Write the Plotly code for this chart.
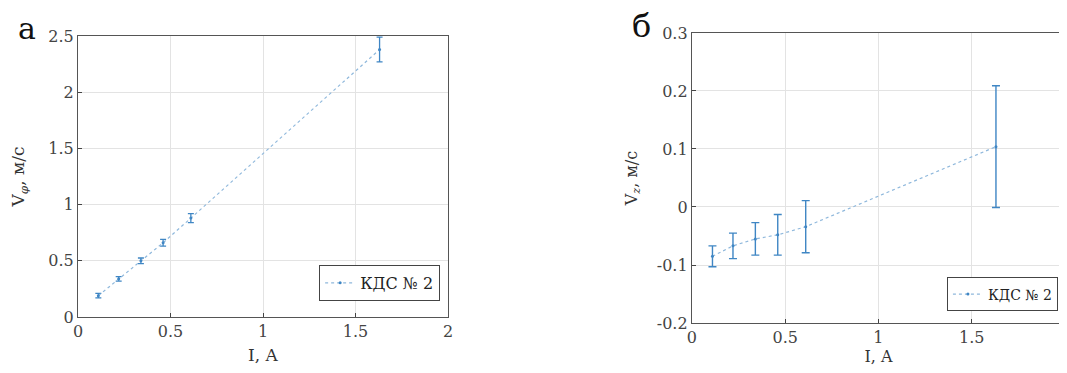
import plotly.graph_objects as go

current = [0.11, 0.22, 0.34, 0.46, 0.61, 1.63]
v_phi = [0.19, 0.34, 0.50, 0.66, 0.88, 2.38]
v_phi_err = [0.02, 0.02, 0.025, 0.03, 0.04, 0.11]
v_z = [-0.085, -0.067, -0.055, -0.048, -0.034, 0.104]
v_z_err = [0.018, 0.022, 0.028, 0.035, 0.045, 0.105]
series_name = "КДС № 2"

x_ticks = [0, 0.5, 1, 1.5, 2]
x_tick_text = ["0", "0.5", "1", "1.5", "2"]
vphi_ticks = [0, 0.5, 1, 1.5, 2, 2.5]
vphi_tick_text = ["0", "0.5", "1", "1.5", "2", "2.5"]
vz_ticks = [-0.2, -0.1, 0, 0.1, 0.2, 0.3]
vz_tick_text = ["-0.2", "-0.1", "0", "0.1", "0.2", "0.3"]

FONT = "DejaVu Serif"
BLUE = "#3f86c4"

fig = go.Figure()
fig.add_trace(go.Scatter(
    x=current, y=v_phi, mode="lines+markers", name=series_name, showlegend=True,
    line=dict(color="#8fb8dc", width=1.2, dash="dot"),
    marker=dict(size=3, color=BLUE),
    error_y=dict(type="data", array=v_phi_err, color=BLUE, thickness=1.3, width=3),
    xaxis="x", yaxis="y", legend="legend",
))
fig.add_trace(go.Scatter(
    x=current, y=v_z, mode="lines+markers", name=series_name, showlegend=True,
    line=dict(color="#8fb8dc", width=1.2, dash="dot"),
    marker=dict(size=3, color=BLUE),
    error_y=dict(type="data", array=v_z_err, color=BLUE, thickness=1.4, width=4),
    xaxis="x2", yaxis="y2", legend="legend2",
))

ax_common = dict(
    showline=True, mirror=True, linecolor="#555", linewidth=1.2,
    ticks="inside", ticklen=4, tickcolor="#444",
    showgrid=True, gridcolor="#e3e3e3", zeroline=False, automargin=False,
    tickfont=dict(family=FONT, size=16, color="#444"),
)

fig.update_layout(
    width=1067, height=373,
    margin=dict(l=0, r=0, t=0, b=0),
    paper_bgcolor="white", plot_bgcolor="white",
    showlegend=True,
    font=dict(family=FONT, color="#333"),
    xaxis=dict(domain=[0.0656, 0.4124], range=[0, 2], tickvals=x_ticks, ticktext=x_tick_text, anchor="y",
               title=dict(text="I, A", font=dict(family=FONT, size=17), standoff=8), **ax_common),
    yaxis=dict(domain=[0.1716, 0.9249], range=[0, 2.5], tickvals=vphi_ticks, ticktext=vphi_tick_text, anchor="x",
               title=dict(text="V<sub><i>φ</i></sub>, м/с", font=dict(family=FONT, size=17), standoff=20), **ax_common),
    xaxis2=dict(domain=[0.641, 0.9906], range=[0, 2], tickvals=x_ticks, ticktext=x_tick_text, anchor="y2",
                title=dict(text="I, A", font=dict(family=FONT, size=16), standoff=4), **ax_common),
    yaxis2=dict(domain=[0.1555, 0.933], range=[-0.2, 0.3], tickvals=vz_ticks, ticktext=vz_tick_text, anchor="x2",
                title=dict(text="V<sub><i>z</i></sub>, м/с", font=dict(family=FONT, size=16), standoff=15), **ax_common),
    legend=dict(x=0.405, y=0.263, xanchor="right", yanchor="middle",
                bgcolor="white", bordercolor="#444", borderwidth=1,
                font=dict(family=FONT, size=16, color="#222"), itemwidth=30),
    legend2=dict(x=0.984, y=0.232, xanchor="right", yanchor="middle",
                 bgcolor="white", bordercolor="#444", borderwidth=1,
                 font=dict(family=FONT, size=14, color="#222"), itemwidth=30),
    annotations=[
        dict(text="а", x=0.018, y=0.946, xref="paper", yref="paper", showarrow=False,
             xanchor="center", yanchor="middle",
             font=dict(family=FONT, size=30, color="#111")),
        dict(text="б", x=0.594, y=0.952, xref="paper", yref="paper", showarrow=False,
             xanchor="center", yanchor="middle",
             font=dict(family=FONT, size=32, color="#111")),
    ],
)

fig.write_html("out.html")
